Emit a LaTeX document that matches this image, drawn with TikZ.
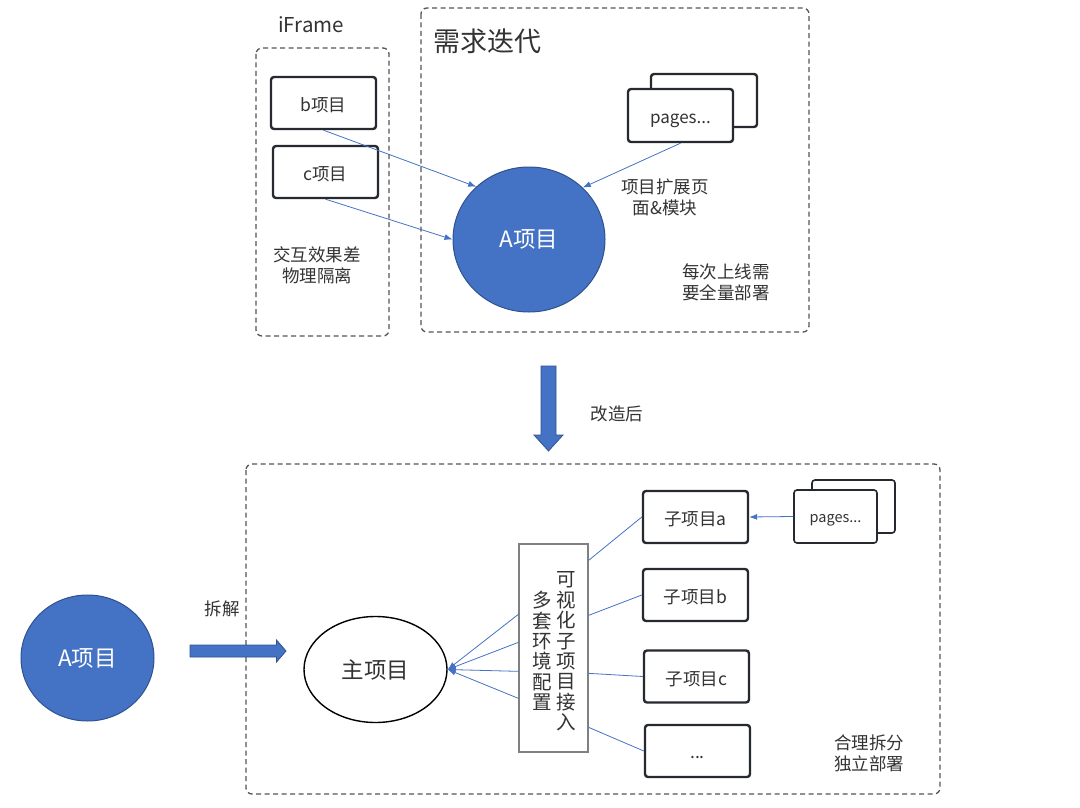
\documentclass[tikz,border=0pt]{standalone}
\usepackage{fontspec}
\setmainfont{Noto Sans CJK SC}
\usetikzlibrary{arrows.meta,shapes.geometric,calc}
\definecolor{blu}{HTML}{4472C4}
\definecolor{blud}{HTML}{2F528F}
\definecolor{dk}{HTML}{262A30}
\definecolor{txt}{HTML}{333333}
\definecolor{dsh}{HTML}{555555}
\definecolor{vgray}{HTML}{808080}
\newcommand{\lowr}[2]{\raisebox{-#1}[\height][\depth]{#2}}
\begin{document}
\begin{tikzpicture}[x=1pt,y=-1pt,
  dbox/.style={draw=dsh,line width=1.3pt,dash pattern=on 5pt off 3.5pt,rounded corners=6pt},
  pbox/.style={draw=dk,line width=2.4pt,rounded corners=3pt,fill=white,text=txt,inner sep=0pt,
    minimum width=105pt,minimum height=52pt,font=\fontsize{17.5}{20}\selectfont},
  spbox/.style={draw=dk,line width=1.6pt,rounded corners=3pt,fill=white,text=txt,inner sep=0pt,
    minimum width=83pt,minimum height=53pt,font=\fontsize{14.5}{17}\selectfont},
  lbl/.style={text=txt,font=\fontsize{17.5}{21}\selectfont,align=center,inner sep=0pt},
  conn/.style={draw=blu,line width=0.8pt},
  arr/.style={conn,-{Latex[length=8pt,width=6pt]}},
  bigarrow/.style={fill=blu,draw=blud,line width=0.8pt},
  bluecirc/.style={ellipse,fill=blu,draw=blud,line width=1pt,text=white,inner sep=0pt,
    font=\fontsize{22.5}{26}\selectfont},
  vcol/.style={text=txt,font=\fontsize{19.5}{20.4}\selectfont,align=center,inner sep=0pt},
]
\useasboundingbox (0,0) rectangle (1080,808);

% ---------- top part ----------
\node[lbl,font=\fontsize{20.5}{24}\selectfont] (iframe) at (311,25) {iFrame};
\draw[dbox] (256,48) rectangle (389,336);
\node[pbox] (b) at (323.5,103) {\lowr{2pt}{b项目}};
\node[pbox] (c) at (325.5,172) {\lowr{2pt}{c项目}};
\node[lbl] (iflbl) at (317,265) {交互效果差\\物理隔离};

\draw[dbox] (421,8) rectangle (809,332);
\node[lbl,font=\fontsize{27}{30}\selectfont] (req) at (487.5,41) {需求迭代};

\node[pbox,minimum width=106pt,minimum height=53pt] (pgback) at (704,100.5) {};
\node[pbox,minimum width=105pt,minimum height=53pt,font=\fontsize{17}{20}\selectfont] (pg) at (680.5,115.5) {\lowr{5pt}{pages...}};

\node[bluecirc,minimum width=152pt,minimum height=145pt] (A) at (529,239.5) {A项目};

\node[lbl] (extlbl) at (665,197) {项目扩展页\\面\&模块};
\node[lbl] (deplbl) at (726,282.5) {每次上线需\\要全量部署};

\draw[arr] (b.south) -- (A.135);
\draw[arr] (c.south) -- (A.180);
\draw[arr] (pg.south) -- (A.44);

% ---------- transform arrow ----------
\draw[bigarrow] (541,366) -- (556,366) -- (556,435) -- (563,435) -- (548.5,451)
  -- (534,435) -- (541,435) -- cycle;
\node[lbl] (after) at (617,414) {改造后};

% ---------- bottom part ----------
\draw[dbox] (246,464) rectangle (940,794);

\node[bluecirc,minimum width=133pt,minimum height=126pt] (A2) at (87.5,658) {A项目};
\node[lbl] (split) at (222,609) {拆解};
\draw[bigarrow] (190,645) -- (276.5,645) -- (276.5,640) -- (286,651) -- (276.5,662)
  -- (276.5,657) -- (190,657) -- cycle;

\node[ellipse,draw=black,line width=1.4pt,minimum width=143pt,minimum height=106pt,
  inner sep=0pt,font=\fontsize{22.5}{26}\selectfont,text=txt] (M) at (375.5,669.5) {主项目};

\node[draw=vgray,line width=1.3pt,minimum width=69pt,minimum height=208pt,inner sep=0pt,fill=white] (V) at (553.5,648) {};
\node[vcol] (vr) at (566,651.5) {可\\视\\化\\子\\项\\目\\接\\入};
\node[vcol] (vl) at (542,651) {多\\套\\环\\境\\配\\置};

\node[pbox] (sa) at (695.5,517) {\lowr{2.5pt}{子项目a}};
\node[pbox] (sb) at (695.5,595) {\lowr{2.5pt}{子项目b}};
\node[pbox] (sc) at (696.5,676.5) {\lowr{2.5pt}{子项目c}};
\node[pbox] (sd) at (697.5,751) {\lowr{7pt}{...}};

\node[spbox] (spback) at (853.5,506.5) {};
\node[spbox] (sp) at (835.5,516.5) {\lowr{4pt}{pages...}};
\draw[arr] (sp.west) -- (sa.east);

\foreach \o in {71,99,128,155}
  \draw[arr] ($(V.north west)+(0,\o)$) -- (M.east);

\draw[conn] ($(V.north east)+(0,17)$) -- (sa.west);
\draw[conn] ($(V.north east)+(0,72)$) -- (sb.west);
\draw[conn] ($(V.north east)+(0,130)$) -- (sc.west);
\draw[conn] ($(V.north east)+(0,184)$) -- (sd.west);

\node[lbl] (indep) at (869,753.5) {合理拆分\\独立部署};
\end{tikzpicture}
\end{document}
